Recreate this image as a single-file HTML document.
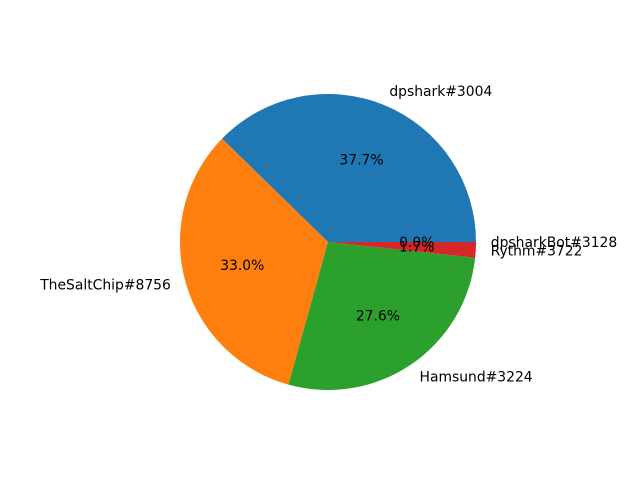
<!DOCTYPE html>
<html><head><meta charset="utf-8"><style>
html,body{margin:0;padding:0;background:#fff;}
svg{display:block;}
text{font-family:"DejaVu Sans","Liberation Sans",sans-serif;font-size:13.9px;fill:#000;}
</style></head><body>
<svg id="chart" width="640" height="480" viewBox="0 0 640 480"></svg>
<script>
const labels = ["dpshark#3004","TheSaltChip#8756","Hamsund#3224","Rythm#3722","dpsharkBot#3128"];
const values = [37.7, 33.0, 27.6, 1.7, 0.0];
const pctLabels = ["37.7%","33.0%","27.6%","1.7%","0.0%"];
const colors = ["#1f77b4","#ff7f0e","#2ca02c","#d62728","#9467bd"];

const svg = document.getElementById('chart');
const NS = 'http://www.w3.org/2000/svg';
const cx = 328, cy = 242, R = 148;
const total = values.reduce((a,b)=>a+b,0);
function pt(angDeg, r){const a=angDeg*Math.PI/180;return [cx+r*Math.cos(a), cy-r*Math.sin(a)];}
let start = 0;
values.forEach((v,i)=>{
  const sweep = v/total*360;
  const end = start+sweep;
  if (sweep > 0) {
    const [x1,y1]=pt(start,R), [x2,y2]=pt(end,R);
    const p=document.createElementNS(NS,'path');
    p.setAttribute('d',`M${cx},${cy} L${x1},${y1} A${R},${R} 0 ${sweep>180?1:0} 0 ${x2},${y2} Z`);
    p.setAttribute('fill',colors[i]);
    
    
    svg.appendChild(p);
  }
  const mid=(start+end)/2;
  const [lx,ly]=pt(mid,R*1.1);
  const t=document.createElementNS(NS,'text');
  t.setAttribute('x',lx);t.setAttribute('y',ly+1);
  t.setAttribute('text-anchor', Math.cos(mid*Math.PI/180)>=0?'start':'end');
  t.setAttribute('dominant-baseline','central');
  t.textContent=labels[i];
  
  
  svg.appendChild(t);
  const [px,py]=pt(mid,R*0.6);
  const q=document.createElementNS(NS,'text');
  q.setAttribute('x',px);q.setAttribute('y',py+1);
  q.setAttribute('text-anchor','middle');
  q.setAttribute('dominant-baseline','central');
  q.textContent=pctLabels[i];
  
  
  svg.appendChild(q);
  start=end;
});
</script>
</body></html>
